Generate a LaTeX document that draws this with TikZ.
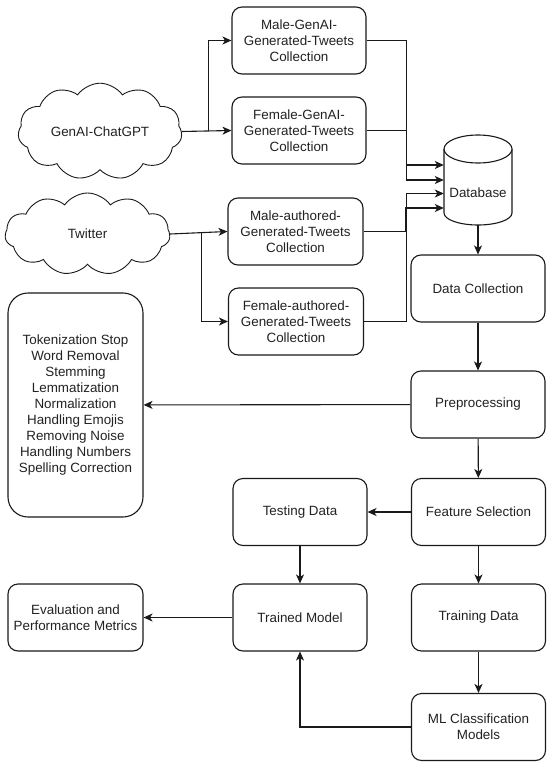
\documentclass[tikz,border=0pt]{standalone}
\usepackage{fontspec}
\setmainfont{Liberation Sans}
\usepackage{tikz}
\usetikzlibrary{arrows.meta, positioning, shapes.symbols, calc}
\definecolor{fline}{HTML}{1A1A1A}
\definecolor{ftext}{HTML}{222222}
\tikzset{
  fbox/.style={draw=fline, fill=white, rounded corners=10pt, line width=1.1pt,
               minimum width=134pt, minimum height=67pt, align=center, inner sep=2pt,
               text=ftext, font=\fontsize{13.4}{16}\selectfont},
  srccloud/.style={cloud, cloud puffs=11, cloud puff arc=110, aspect=1.75, draw=fline, fill=white,
               line width=0.9pt, inner sep=0pt, text=ftext,
               font=\fontsize{13.4}{16}\selectfont},
  dbtext/.style={minimum width=68pt, minimum height=64pt, inner sep=0pt, text=ftext,
               font=\fontsize{13.4}{16}\selectfont},
  arr/.style={-{Stealth[length=9pt, width=8pt, inset=2.5pt]}, line width=1.1pt, fline},
}

\begin{document}
\begin{tikzpicture}[x=1pt, y=-1pt]
  \useasboundingbox (0,0) rectangle (550,765);

  %% sources
  \node[srccloud, minimum width=164pt, minimum height=77pt] (gen) at (100,131.5) {GenAI-ChatGPT};
  \node[srccloud, minimum width=165pt, minimum height=82pt] (tw) at (87.5,234) {Twitter};

  %% tweet collections
  \node[fbox] (mg) at (299,40.5) {Male-GenAI-\\Generated-Tweets\\Collection};
  \node[fbox] (fg) at (299,130.5) {Female-GenAI-\\Generated-Tweets\\Collection};
  \node[fbox, minimum width=135pt] (ma) at (295.5,231.5) {Male-authored-\\Generated-Tweets\\Collection};
  \node[fbox, minimum width=135pt] (fa) at (296,321.5) {Female-authored-\\Generated-Tweets\\Collection};

  %% database
  \draw[line width=1.1pt, fline, fill=white] (444,149) -- (444,213)
    arc[start angle=180, end angle=0, x radius=34, y radius=12] -- (512,149);
  \draw[line width=1.1pt, fline, fill=white] (478,149) ellipse[x radius=34, y radius=14];
  \node[dbtext] (db) at (478,193) {Database};
  \coordinate (in1) at (db.west |- 0,165);
  \coordinate (in2) at (db.west |- 0,180);
  \coordinate (in3) at (db.west |- 0,193.5);
  \coordinate (in4) at (db.west |- 0,208);

  %% pipeline
  \node[fbox] (dc) at (478,288.5) {Data Collection};
  \node[fbox] (pre) at (478,404.5) {Preprocessing};
  \node[fbox, rounded corners=20pt, minimum width=135pt, minimum height=224pt] (steps) at (75.5,405)
    {Tokenization Stop\\Word Removal\\Stemming\\Lemmatization\\Normalization\\Handling Emojis\\Removing Noise\\Handling Numbers\\Spelling Correction};
  \node[fbox] (fs) at (478.5,512) {Feature Selection};
  \node[fbox] (test) at (300,512) {Testing Data};
  \node[fbox] (tm) at (300,617.5) {Trained Model};
  \node[fbox] (td) at (478.5,617.5) {Training Data};
  \node[fbox, minimum width=135pt] (ev) at (75.5,617.5) {Evaluation and\\Performance Metrics};
  \node[fbox] (ml) at (478.5,727) {ML Classification\\Models};

  %% connectors
  \draw[arr] (gen.east) -- (fg.west);
  \draw[arr] ($(fg.west)+(-23,0)$) |- (mg.west);
  \draw[arr] (tw.east) -- (ma.west);
  \draw[arr] ($(ma.west)+(-26,0)$) |- (fa.west);
  \draw[arr] (mg.east) -- ++(40,0) |- (in1);
  \draw[arr] (fg.east) -- ++(40,0) |- (in2);
  \draw[arr] (fa.east) -- ++(42,0) |- (in3);
  \draw[arr] (ma.east) -- ++(42,0) |- (in4);
  \draw[arr] (db.south) -- (dc.north);
  \draw[arr] (dc) -- (pre);
  \draw[arr] (pre) -- (steps);
  \draw[arr] (pre) -- (fs);
  \draw[arr] (fs) -- (test);
  \draw[arr] (fs) -- (td);
  \draw[arr] (test) -- (tm);
  \draw[arr] (td) -- (ml);
  \draw[arr] (tm) -- (ev);
  \draw[arr] (ml.west) -| (tm.south);

\end{tikzpicture}
\end{document}
